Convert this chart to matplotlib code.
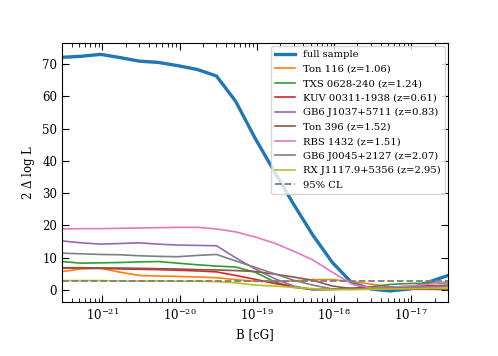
import numpy as np
import matplotlib
matplotlib.use("Agg")
import matplotlib.pyplot as plt

plt.rcParams['font.family'] = 'serif'
plt.rcParams['font.serif'] = ['DejaVu Serif']
plt.rcParams['mathtext.fontset'] = 'dejavuserif'

# magnetic field grid [cG]
B = [3.0e-22, 5.3e-22, 9.5e-22, 1.7e-21, 3.0e-21, 5.3e-21, 9.5e-21,
     1.7e-20, 3.0e-20, 5.3e-20, 9.5e-20, 1.7e-19, 3.0e-19, 5.3e-19,
     9.5e-19, 1.7e-18, 3.0e-18, 5.3e-18, 9.5e-18, 1.7e-17, 3.0e-17]

full_sample = [72.1, 72.4, 73.0, 72.0, 70.9, 70.5, 69.5, 68.3, 66.3, 58.5, 47.0,
               36.5, 26.5, 17.0, 8.5, 2.2, 0.3, -0.3, 0.3, 2.5, 4.5]

sources = ["Ton 116 (z=1.06)", "TXS 0628-240 (z=1.24)", "KUV 00311-1938 (z=0.61)",
           "GB6 J1037+5711 (z=0.83)", "Ton 396 (z=1.52)", "RBS 1432 (z=1.51)",
           "GB6 J0045+2127 (z=2.07)", "RX J1117.9+5356 (z=2.95)"]

ton116 = [5.7, 6.5, 6.7, 5.5, 4.5, 4.3, 4.2, 4.0, 3.8, 3.2, 2.7,
          2.6, 2.8, 3.2, 3.2, 2.6, 1.8, 1.0, 0.6, 0.5, 0.5]
txs0628 = [8.8, 8.3, 8.4, 8.5, 8.7, 8.8, 8.3, 7.8, 7.4, 7.1, 5.5,
           2.5, 0.8, 0.1, 0.1, 0.5, 1.0, 1.7, 2.0, 2.1, 2.2]
kuv00311 = [6.8, 6.8, 6.7, 6.5, 6.4, 6.3, 6.1, 5.9, 5.6, 4.5, 3.3,
            2.0, 1.0, 0.2, 0.3, 0.5, 0.7, 0.9, 1.1, 1.3, 1.5]
gb6j1037 = [15.2, 14.6, 14.2, 14.4, 14.6, 14.2, 13.9, 13.8, 13.7, 10.0, 6.5,
            3.5, 1.2, 0.0, 0.2, 0.3, 0.4, 0.6, 0.8, 1.0, 1.2]
ton396 = [6.9, 6.9, 6.8, 6.8, 6.7, 6.6, 6.5, 6.3, 6.2, 6.0, 5.7,
          4.9, 4.0, 3.0, 1.2, 0.4, 0.3, 0.3, 0.2, 0.2, 0.1]
rbs1432 = [18.9, 19.0, 19.0, 19.1, 19.2, 19.3, 19.4, 19.4, 18.9, 18.0, 16.4,
           14.5, 12.0, 9.3, 5.5, 1.8, 0.6, 0.8, 1.2, 1.8, 2.6]
gb6j0045 = [11.4, 11.2, 11.0, 10.9, 10.6, 10.4, 10.3, 10.7, 11.0, 9.0, 7.0,
            5.0, 3.0, 1.5, 0.3, 0.2, 0.4, 0.6, 0.8, 1.0, 1.1]
rxj1117 = [2.9, 2.9, 2.9, 2.8, 2.8, 2.8, 2.7, 2.7, 2.6, 2.2, 1.5,
           1.2, 0.8, 0.4, 0.1, 0.1, 0.2, 0.3, 0.4, 0.5, 0.5]

cl95 = 2.71
xticks = [1e-21, 1e-20, 1e-19, 1e-18, 1e-17]
yticks = [0, 10, 20, 30, 40, 50, 60, 70]

fig = plt.figure(figsize=(4.98, 3.56), dpi=100)
ax = fig.add_axes([0.1245, 0.152, 0.7755, 0.727])

ax.plot(B, full_sample, color='C0', lw=2.4, label='full sample')
for i, vals in enumerate([ton116, txs0628, kuv00311, gb6j1037, ton396,
                          rbs1432, gb6j0045, rxj1117]):
    ax.plot(B, vals, color='C%d' % (i + 1), lw=1.2, label=sources[i])
ax.axhline(cl95, color='C7', ls='--', lw=1.3, label='95% CL')

ax.set_xscale('log')
ax.set_xlim(3e-22, 3e-17)
ax.set_ylim(-3.7, 76.5)
ax.set_xticks(xticks)
ax.set_yticks(yticks)
ax.set_xlabel('B [cG]', fontsize=8.5)
ax.set_ylabel(r'2 $\Delta$ log L', fontsize=8.5)
ax.tick_params(which='both', direction='in', top=True, right=True, labelsize=8.5)
ax.tick_params(which='major', length=5)
ax.tick_params(which='minor', length=3)

ax.legend(loc='upper right', fontsize=7.2, borderaxespad=0.3, handlelength=2.0,
          labelspacing=0.55, framealpha=0.8)

fig.savefig('out.png', dpi=100)
